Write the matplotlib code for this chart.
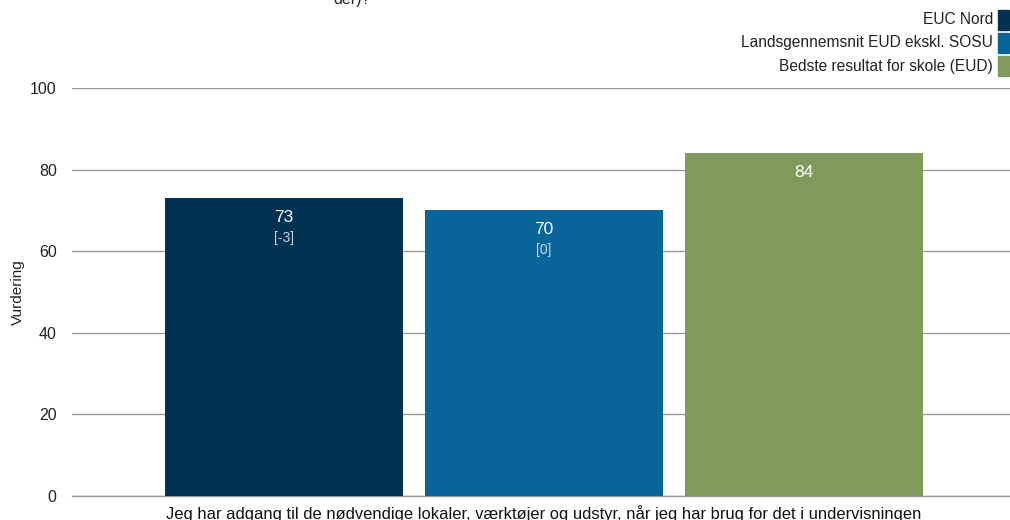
import matplotlib
matplotlib.use('Agg')
import matplotlib.pyplot as plt
from matplotlib.patches import Rectangle

plt.rcParams['font.family'] = ['Liberation Sans', 'DejaVu Sans']

# ============================================================
# DATA
# ============================================================
serier = ["EUC Nord", "Landsgennemsnit EUD ekskl. SOSU", "Bedste resultat for skole (EUD)"]
vaerdier = [73, 70, 84]
aendring = ["[-3]", "[0]", None]
farver = ["#003352", "#08659a", "#7f9a5a"]
kategori = "Jeg har adgang til de nødvendige lokaler, værktøjer og udstyr, når jeg har brug for det i undervisningen"
y_ticks = [0, 20, 40, 60, 80, 100]

# ============================================================
# FIGUR
# ============================================================
fig = plt.figure(figsize=(10.1, 5.2), dpi=100)
ax = fig.add_axes([72 / 1010, 24 / 520, 938 / 1010, 408 / 520])

x_pos = [-1, 0, 1]
bar_w = 238 / 260
ax.bar(x_pos, vaerdier, width=bar_w, color=farver, zorder=3)

for x, v, d in zip(x_pos, vaerdier, aendring):
    ax.annotate(str(v), (x, v), xytext=(0, -14), textcoords='offset points',
                ha='center', va='center', color='white', fontsize=12.5, zorder=4)
    if d:
        ax.annotate(d, (x, v), xytext=(0, -28.5), textcoords='offset points',
                    ha='center', va='center', color='#c9d6e0', fontsize=10, zorder=4)

ax.set_xlim((72 - 544) / 260, (1010 - 544) / 260)
ax.set_ylim(0, 100)
ax.set_yticks(y_ticks)
ax.tick_params(axis='y', length=0, labelsize=11.5, pad=11, labelcolor='#222222')
ax.set_xticks([])
ax.grid(axis='y', color='#9a9a9a', linewidth=1, zorder=0)
ax.axhline(0, color='#9a9a9a', linewidth=1, zorder=2, clip_on=False)
for s in ax.spines.values():
    s.set_visible(False)
ax.set_ylabel('Vurdering', fontsize=11, color='#222222', labelpad=4)

fig.text(544 / 1010, 1 - 514 / 520, kategori, ha='center', va='center',
         fontsize=11.9, color='#111111')

# titel (afskåret øverst)
fig.text(352 / 1010, 1 - 4 / 520, 'der)?', ha='center', va='baseline',
         fontsize=11.5, color='#222222')

# legend
for i, (navn, farve) in enumerate(zip(serier, farver)):
    yc = 20 + i * 23
    fig.text(993 / 1010, 1 - yc / 520, navn, ha='right', va='center',
             fontsize=11.2, color='#222222')
    fig.patches.append(Rectangle((998 / 1010, 1 - (yc + 10) / 520), 11 / 1010, 20 / 520,
                                 transform=fig.transFigure, color=farve))

plt.savefig('out.png', dpi=100)
